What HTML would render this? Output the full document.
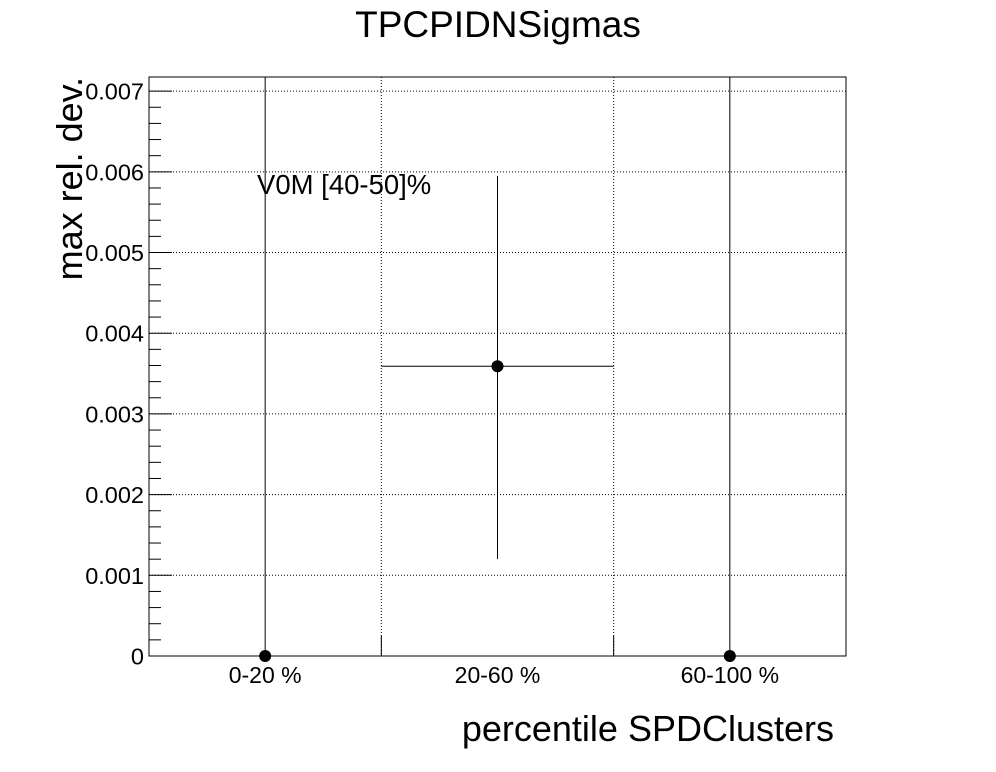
<!DOCTYPE html>
<html><head><meta charset="utf-8"><style>
body{margin:0;background:#fff;}
svg{display:block;font-family:"Liberation Sans",sans-serif;}
</style></head><body>
<svg width="996" height="772" id="c">
<text x="498" y="37" font-size="37" text-anchor="middle">TPCPIDNSigmas</text>
<text x="834" y="741" font-size="36" text-anchor="end">percentile SPDClusters</text>
<text transform="translate(82,77) rotate(-90)" font-size="36" text-anchor="end">max rel. dev.</text>
<text x="257" y="194" font-size="27.5">V0M [40-50]%</text>
<g id="grid"></g><g id="axes"></g><g id="marks"></g>
<rect x="149" y="77" width="697" height="579" fill="none" stroke="#000" stroke-width="1"/>
</svg>
<script>
const categories=["0-20 %","20-60 %","60-100 %"];
const values=[0,0.00359,0];
const errLow=[0,0.00239,0];
const errHigh=[0.01,0.00236,0.01];
const xErr=[false,true,false];
const yTicks=[0,0.001,0.002,0.003,0.004,0.005,0.006,0.007];
const yTickLabels=["0","0.001","0.002","0.003","0.004","0.005","0.006","0.007"];
const X0=149,X1=846,Y0=656,Y1=77,YMAX=0.007175;
const ns="http://www.w3.org/2000/svg";
const bw=(X1-X0)/categories.length;
const xs=i=>X0+bw*(i+0.5);
const ys=v=>Y0-(v/YMAX)*(Y0-Y1);
const cy=v=>Math.max(Y1,Math.min(Y0,ys(v)));
function mk(p,t,a){const e=document.createElementNS(ns,t);for(const k in a)e.setAttribute(k,a[k]);document.getElementById(p).appendChild(e);return e;}
yTicks.forEach((v,i)=>{const y=ys(v);
 if(v>0){const g=mk('grid','line',{x1:X0,x2:X1,y1:y,y2:y,stroke:'#000','stroke-dasharray':'1,2'});
 
 }
 const t=mk('axes','line',{x1:X0,x2:X0+23,y1:y,y2:y,stroke:'#000'});
 
 
 const l=mk('axes','text',{x:144,y:y+8.5,'font-size':23.5,'text-anchor':'end'});l.textContent=yTickLabels[i];
 
 
});
for(let v=0.0002;v<YMAX;v+=0.0002){if(Math.abs(v/0.001-Math.round(v/0.001))<1e-6)continue;const y=ys(v);
 const t=mk('axes','line',{x1:X0,x2:X0+12,y1:y,y2:y,stroke:'#000'});
 
 }
categories.forEach((c,i)=>{
 const l=mk('axes','text',{x:xs(i),y:683,'font-size':23,'text-anchor':'middle'});l.textContent=c;
 
 
 if(i>0){const x=X0+bw*i;
  const g=mk('grid','line',{x1:x,x2:x,y1:Y1,y2:Y0,stroke:'#000','stroke-dasharray':'1,2'});
  
  
  const t=mk('axes','line',{x1:x,x2:x,y1:Y0-20,y2:Y0,stroke:'#000'});
  
  }
});
values.forEach((v,i)=>{const x=xs(i),y=ys(v);
 const e=mk('marks','line',{x1:x,x2:x,y1:cy(v-errLow[i]),y2:cy(v+errHigh[i]),stroke:'#000'});
 
 
 if(xErr[i]){const h=mk('marks','line',{x1:X0+bw*i,x2:X0+bw*(i+1),y1:y,y2:y,stroke:'#000'});
  
  }
 const p=mk('marks','circle',{cx:x,cy:y,r:6,fill:'#000'});
 
 
});
</script>
</body></html>
